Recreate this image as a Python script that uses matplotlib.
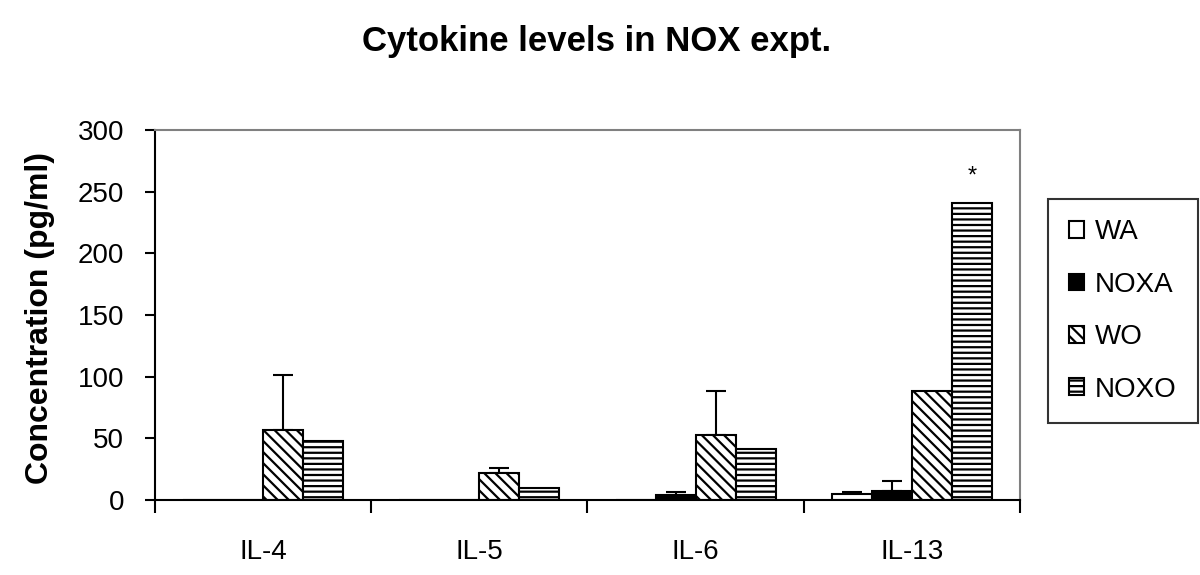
import matplotlib
matplotlib.use('Agg')
import matplotlib.pyplot as plt
import numpy as np

plt.rcParams['font.family'] = ['Liberation Sans', 'DejaVu Sans']
plt.rcParams['hatch.linewidth'] = 1.6

cytokines = ['IL-4', 'IL-5', 'IL-6', 'IL-13']
groups = ['WA', 'NOXA', 'WO', 'NOXO']

# mean concentration (pg/ml) per group, one value per cytokine
wa = [0, 0, 0, 4.5]
noxa = [0, 0, 4, 7]
wo = [57, 22, 53, 88]
noxo = [48, 10, 41, 241]

# upper error bars
wa_err = [0, 0, 0, 2]
noxa_err = [0, 0, 2.5, 8.5]
wo_err = [44, 4, 35, 0]
noxo_err = [0, 0, 0, 0]

values = [wa, noxa, wo, noxo]
errors = [wa_err, noxa_err, wo_err, noxo_err]
faces = ['white', 'black', 'white', 'white']
hatches = [None, None, '\\\\\\', '---']

fig = plt.figure(figsize=(12, 5.75), dpi=100)
ax = fig.add_axes([0.129, 0.1304, 0.721, 0.6435])

x = np.arange(len(cytokines))
width = 0.185
for i, (vals, errs) in enumerate(zip(values, errors)):
    pos = x + (i - 1.5) * width
    ax.bar(pos, vals, width, color=faces[i], edgecolor='black', linewidth=1.5,
           hatch=hatches[i], label=groups[i], zorder=2)
    err = np.array(errs, dtype=float)
    mask = err > 0
    ax.errorbar(pos[mask], np.array(vals)[mask],
                yerr=[np.zeros(mask.sum()), err[mask]],
                fmt='none', ecolor='black', elinewidth=1.5, capsize=7,
                capthick=1.5, zorder=1)

# significance marker
ax.text(x[3] + 1.5 * width, noxo[3] + 12, '*', ha='center', va='bottom', fontsize=17)

ax.set_xlim(-0.5, 3.5)
ax.set_ylim(0, 300)
ax.set_yticks(np.arange(0, 301, 50))
ax.tick_params(axis='y', direction='out', length=7, width=1.5, labelsize=20, pad=15)
ax.set_xticks(x)
ax.set_xticklabels(cytokines)
ax.set_xticks(np.arange(-0.5, 3.6, 1), minor=True)
ax.tick_params(axis='x', which='major', length=0, labelsize=20, pad=28)
ax.tick_params(axis='x', which='minor', direction='out', length=9, width=1.5)
for s in ['left', 'bottom']:
    ax.spines[s].set_linewidth(1.5)
for s in ['top', 'right']:
    ax.spines[s].set_color('#808080')
    ax.spines[s].set_linewidth(1.5)

ax.set_ylabel('Concentration (pg/ml)', fontsize=23, fontweight='bold')
ax.yaxis.set_label_coords(-0.1156, 0.493)
fig.text(0.497, 0.927, 'Cytokine levels in NOX expt.', ha='center', va='center',
         fontsize=25, fontweight='bold')

leg = ax.legend(loc='center left', bbox_to_anchor=(1048 / 1200, 1 - 311 / 575),
                bbox_transform=fig.transFigure, frameon=True, fancybox=False,
                edgecolor='black', fontsize=20, handlelength=0.55, handleheight=0.55,
                labelspacing=0.95, handletextpad=0.4, borderpad=0.75, borderaxespad=0)
leg.get_frame().set_linewidth(1.5)

fig.savefig('out.png', dpi=100)
